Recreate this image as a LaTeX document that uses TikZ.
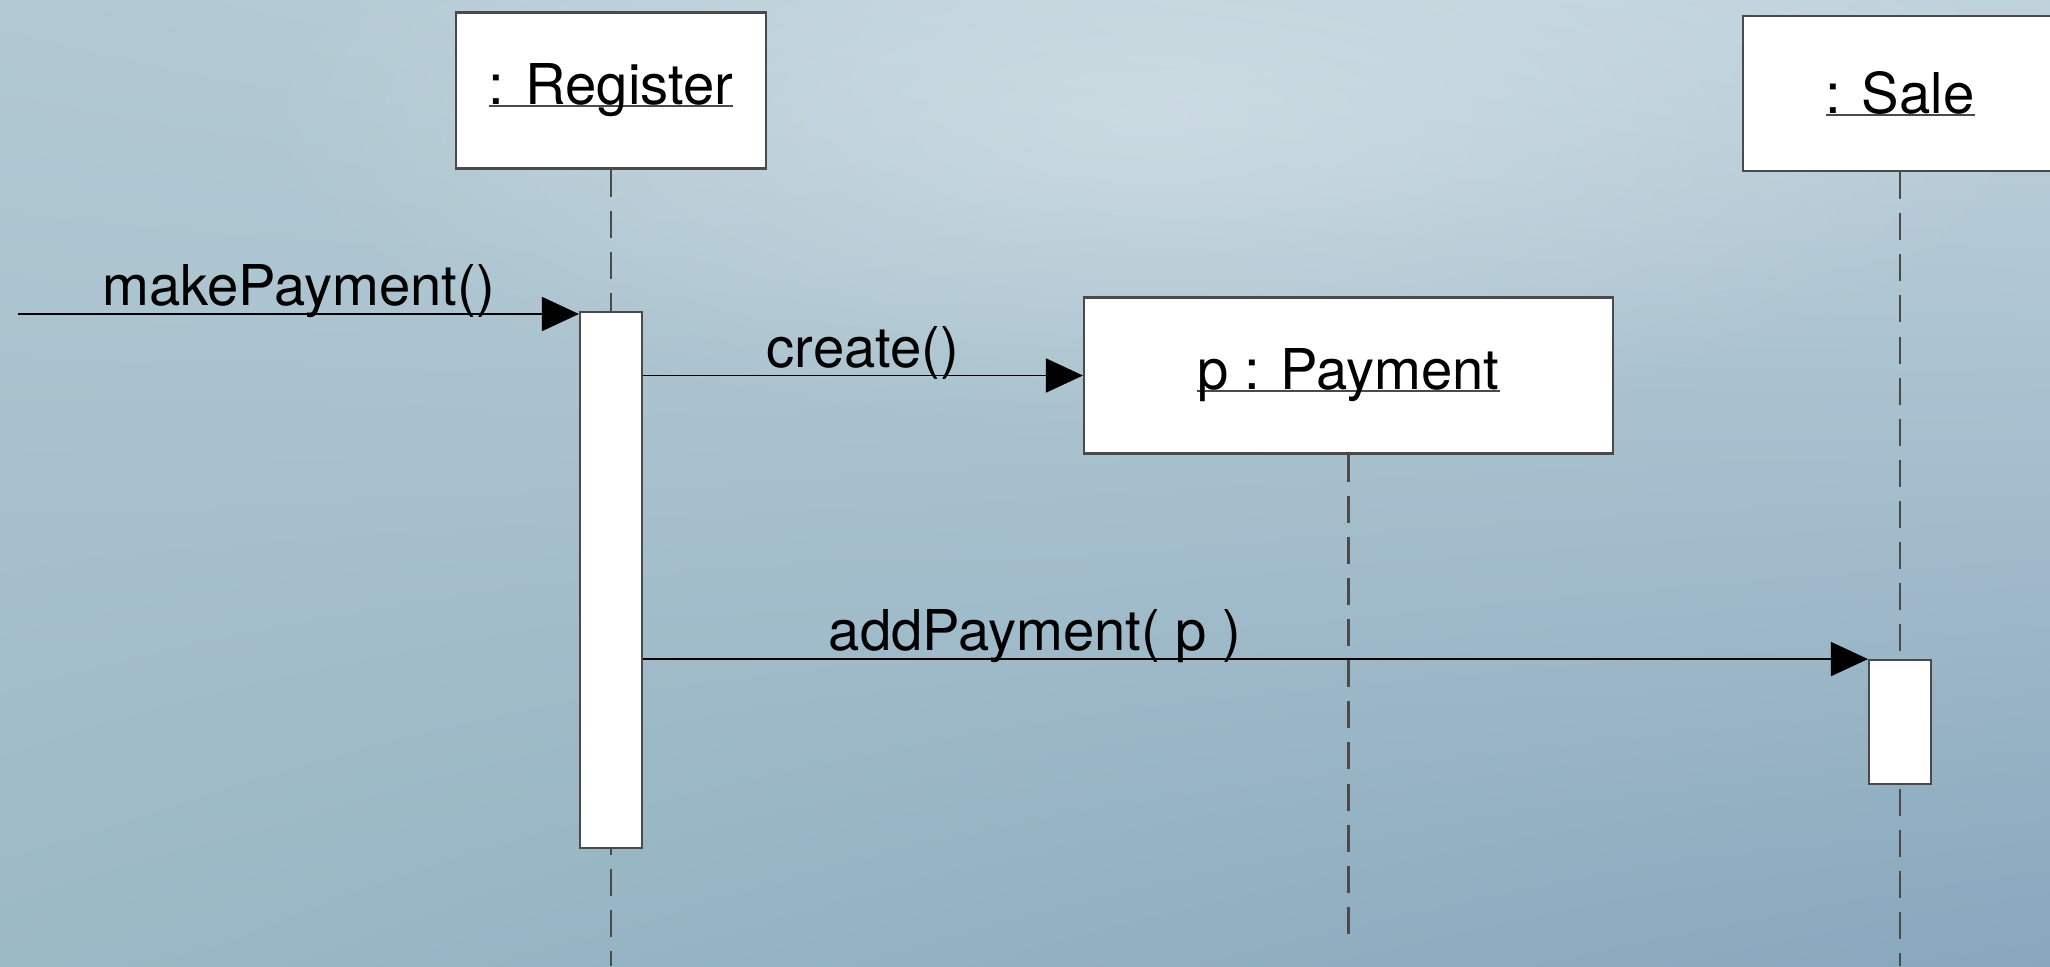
\documentclass[tikz,border=0pt]{standalone}
\usepackage{fontspec}
\setmainfont{TeX Gyre Heros}
\usepackage{xcolor}
\usetikzlibrary{arrows.meta, positioning, shadings, fadings}
\definecolor{bgul}{HTML}{B2C9D3}
\definecolor{bgur}{HTML}{C0D3DC}
\definecolor{bgll}{HTML}{9BB9C5}
\definecolor{bglr}{HTML}{88A7BD}
\definecolor{linegray}{HTML}{4A4A4A}
\tikzfading[name=glow, inner color=transparent!0, outer color=transparent!100]
% underlined object name, rule sitting on the baseline
\newcommand\objname[1]{\setbox0\hbox{#1}\rlap{\color{linegray}\rule[-0.7pt]{\wd0}{0.6pt}}\box0}
\tikzset{
	object/.style={rectangle, draw=linegray, fill=white, line width=0.6pt, minimum height=1.56cm, inner sep=0pt},
	actbox/.style={rectangle, draw=linegray, fill=white, line width=0.6pt, minimum width=0.62cm, inner sep=0pt},
	lifeline/.style={draw=linegray, line width=0.6pt, dash pattern=on 7.7pt off 4pt},
	msg/.style={draw, line width=0.5pt, -{Triangle[length=0.37cm, width=0.34cm]}},
	msglabel/.style={anchor=base, yshift=2.3pt}
}

\begin{document}
\begin{tikzpicture}[font=\fontsize{16}{19}\selectfont]
	\useasboundingbox (0,0) rectangle (20.5,-9.66);
	\clip (0,0) rectangle (20.5,-9.66);
	\shade[upper left=bgul, upper right=bgur, lower left=bgll, lower right=bglr] (0,0) rectangle (20.5,-9.66);
	% soft light at the top
	\fill[white, path fading=glow, fit fading=true, opacity=0.3] (11.5,-1.2) ellipse [x radius=9cm, y radius=3.2cm];
	
	% Objects
	\node[object, minimum width=3.10cm] (reg) at (6.11,-0.905) {\objname{: Register}};
	\node[object, minimum width=5.29cm] (pay) at (13.485,-3.755) {\objname{p : Payment}};
	\node[object, minimum width=3.14cm, minimum height=1.55cm] (sale) at (19.00,-0.935) {\objname{: Sale}};
	
	% Lifelines
	\coordinate (regend) at (reg.south |- 0,-9.66);
	\coordinate (payend) at (pay.south |- 0,-9.41);
	\coordinate (saleend) at (sale.south |- 0,-9.66);
	\path[lifeline] (reg.south) -- (regend);
	\path[lifeline] (pay.south) -- (payend);
	\path[lifeline] (sale.south) -- (saleend);
	
	% Activations
	\node[actbox, minimum height=5.36cm, below=1.41cm of reg] (regact) {};
	\node[actbox, minimum height=1.24cm, below=4.87cm of sale] (saleact) {};
	
	% Messages
	\coordinate (found) at (0.18,-3.14);
	\path[msg] (found) -- node[msglabel] {makePayment()} (found -| regact.west);
	\path[msg] (regact.east |- pay.west) -- node[msglabel] {create()} (pay.west);
	\path[msg] (regact.east |- saleact.north west) -- node[msglabel, pos=0.32] {addPayment( p )} (saleact.north west);
\end{tikzpicture}
\end{document}
